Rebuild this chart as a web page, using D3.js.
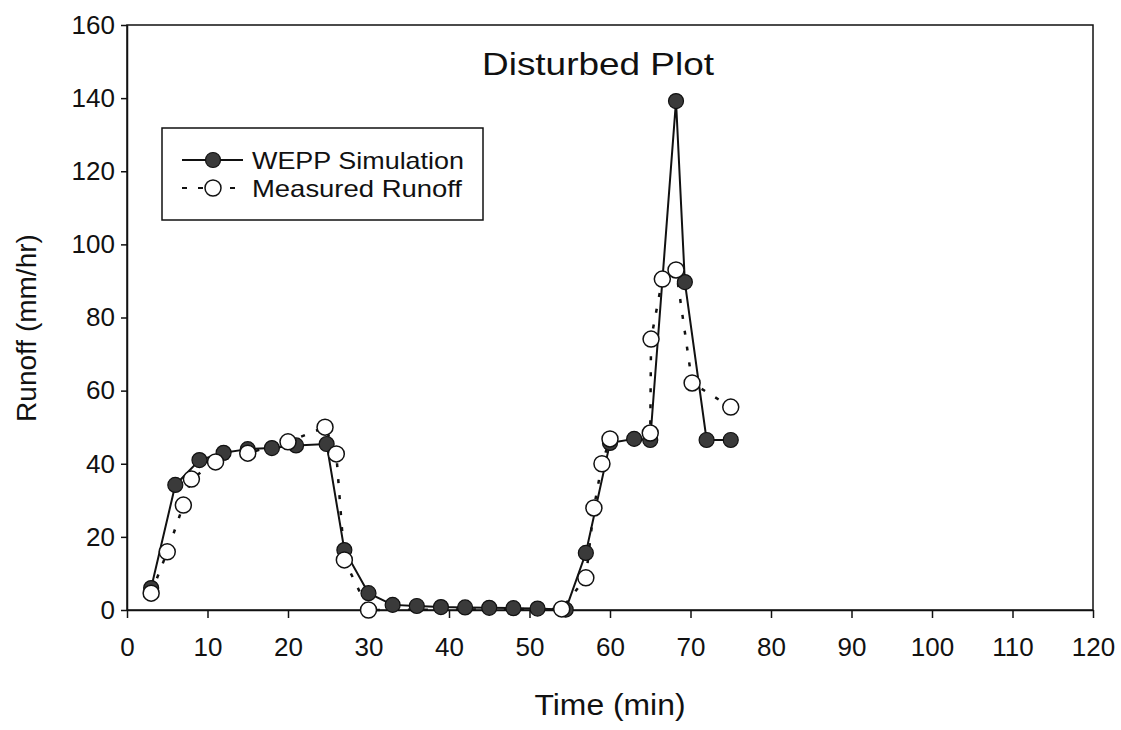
<!DOCTYPE html>
<html>
<head>
<meta charset="utf-8">
<script src="https://cdn.jsdelivr.net/npm/d3@7"></script>
<style>
  html, body { margin: 0; padding: 0; background: #fff; }
  svg { display: block; font-family: "Liberation Sans", Arial, Helvetica, sans-serif; }
</style>
</head>
<body>
<svg id="chart" width="1121" height="730"></svg>
<script>
// ---- data ----
const chartTitle = "Disturbed Plot";
const xLabel = "Time (min)";
const yLabel = "Runoff (mm/hr)";
const xTicks = [0, 10, 20, 30, 40, 50, 60, 70, 80, 90, 100, 110, 120];
const yTicks = [0, 20, 40, 60, 80, 100, 120, 140, 160];
const seriesNames = ["WEPP Simulation", "Measured Runoff"];

const weppTime  = [3, 6, 9, 12, 15, 18, 21, 24.8, 27, 30, 33, 36, 39, 42, 45, 48, 51, 54.5, 57, 60, 63, 65, 68.2, 69.3, 72, 75];
const weppRunoff = [6, 34.2, 41, 43, 44, 44.3, 45, 45.4, 16.4, 4.6, 1.4, 1.1, 0.8, 0.7, 0.6, 0.5, 0.4, 0.1, 15.6, 45.7, 46.8, 46.5, 139.2, 89.7, 46.5, 46.5];

const measTime   = [3, 5, 7, 8, 11, 15, 20, 24.6, 26, 27, 30, 54, 57, 58, 59, 60, 65, 65.1, 66.5, 68.2, 70.2, 75];
const measRunoff = [4.6, 15.9, 28.7, 35.8, 40.5, 42.9, 46, 50, 42.7, 13.7, 0, 0.3, 8.8, 27.9, 40, 46.8, 48.4, 74.1, 90.5, 93, 62.1, 55.5];

// ---- layout ----
const svg = d3.select("#chart");
const mLeft = 127, mRight = 1093, mTop = 25, mBottom = 610;
const x = d3.scaleLinear().domain([0, 120]).range([mLeft, mRight]);
const y = d3.scaleLinear().domain([0, 160]).range([mBottom, mTop]);

// frame
svg.append("rect")
  .attr("x", mLeft).attr("y", mTop)
  .attr("width", mRight - mLeft).attr("height", mBottom - mTop)
  .attr("fill", "none").attr("stroke", "#111").attr("stroke-width", 1.5);

// axes
const xAxis = svg.append("g")
  .attr("transform", `translate(0,${mBottom})`)
  .call(d3.axisBottom(x).tickValues(xTicks).tickSize(8).tickSizeOuter(0).tickPadding(20));
const yAxis = svg.append("g")
  .attr("transform", `translate(${mLeft},0)`)
  .call(d3.axisLeft(y).tickValues(yTicks).tickSize(6).tickSizeOuter(0).tickPadding(6));
[xAxis, yAxis].forEach(g => {
  g.select(".domain").attr("stroke", "#111").attr("stroke-width", 1.5);
  g.selectAll(".tick line").attr("stroke", "#111").attr("stroke-width", 1.5);
  g.selectAll(".tick text").attr("fill", "#111")
    .style("font-family", '"Liberation Sans", Arial, sans-serif').style("font-size", "26px");
});

// lines
const weppData = weppTime.map((t, i) => ({ t, v: weppRunoff[i] }));
const measData = measTime.map((t, i) => ({ t, v: measRunoff[i] }));
const line = d3.line().x(d => x(d.t)).y(d => y(d.v));

svg.append("path").datum(measData)
  .attr("d", line).attr("fill", "none")
  .attr("stroke", "#111").attr("stroke-width", 2.5)
  .attr("stroke-dasharray", "4,12");

svg.append("path").datum(weppData)
  .attr("d", line).attr("fill", "none")
  .attr("stroke", "#111").attr("stroke-width", 2);

// markers
svg.append("g").selectAll("circle").data(weppData).join("circle")
  .attr("cx", d => x(d.t)).attr("cy", d => y(d.v)).attr("r", 7.5)
  .attr("fill", "#3a3a3a").attr("stroke", "#111").attr("stroke-width", 1.2);

svg.append("g").selectAll("circle").data(measData).join("circle")
  .attr("cx", d => x(d.t)).attr("cy", d => y(d.v)).attr("r", 8)
  .attr("fill", "#fff").attr("stroke", "#111").attr("stroke-width", 1.5);

// title
svg.append("text")
  .attr("x", 598).attr("y", 75)
  .attr("text-anchor", "middle")
  .attr("textLength", 232).attr("lengthAdjust", "spacingAndGlyphs")
  .style("font-size", "32px").attr("fill", "#111")
  .text(chartTitle);

// axis titles
svg.append("text")
  .attr("x", (mLeft + mRight) / 2).attr("y", 715)
  .attr("text-anchor", "middle")
  .attr("textLength", 151).attr("lengthAdjust", "spacingAndGlyphs")
  .style("font-size", "30px").attr("fill", "#111")
  .text(xLabel);

svg.append("text")
  .attr("transform", "translate(36,328) rotate(-90)")
  .attr("text-anchor", "middle")
  .style("font-size", "28px").attr("fill", "#111")
  .text(yLabel);

// legend
const lg = svg.append("g");
const row1 = 160, row2 = 188;
lg.append("rect")
  .attr("x", 162).attr("y", 128).attr("width", 321).attr("height", 92)
  .attr("fill", "#fff").attr("stroke", "#111").attr("stroke-width", 1.5);
lg.append("line").attr("x1", 182).attr("x2", 243).attr("y1", row1).attr("y2", row1)
  .attr("stroke", "#111").attr("stroke-width", 2);
lg.append("circle").attr("cx", 213).attr("cy", row1).attr("r", 7.5)
  .attr("fill", "#3a3a3a").attr("stroke", "#111").attr("stroke-width", 1.2);
lg.append("line").attr("x1", 182).attr("x2", 242).attr("y1", row2).attr("y2", row2)
  .attr("stroke", "#111").attr("stroke-width", 2)
  .attr("stroke-dasharray", "5,11");
lg.append("circle").attr("cx", 213).attr("cy", row2).attr("r", 8)
  .attr("fill", "#fff").attr("stroke", "#111").attr("stroke-width", 1.5);
lg.append("text").attr("x", 252).attr("y", row1 + 8.5)
  .attr("textLength", 212).attr("lengthAdjust", "spacingAndGlyphs")
  .style("font-size", "24px").attr("fill", "#111").text(seriesNames[0]);
lg.append("text").attr("x", 252).attr("y", row2 + 8.5)
  .attr("textLength", 210).attr("lengthAdjust", "spacingAndGlyphs")
  .style("font-size", "24px").attr("fill", "#111").text(seriesNames[1]);
</script>
</body>
</html>
